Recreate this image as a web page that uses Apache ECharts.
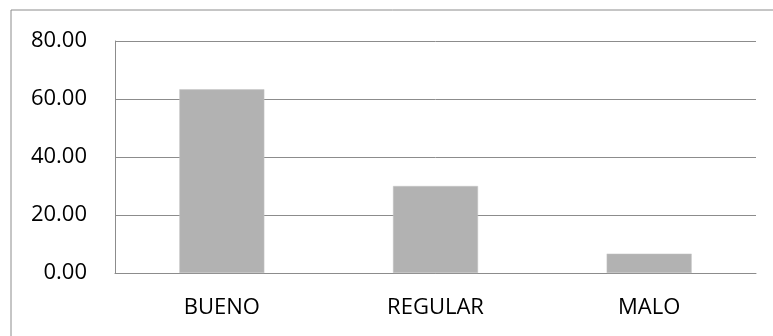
<!DOCTYPE html>
<html>
<head>
<meta charset="utf-8">
<script src="https://cdn.jsdelivr.net/npm/echarts@6/dist/echarts.min.js"></script>
<style>html,body{margin:0;padding:0;background:#fff;}#c{width:773px;height:336px;}</style>
</head>
<body>
<div id="c"></div>
<script>
var categories = ["BUENO", "REGULAR", "MALO"];
var values = [63.33, 30.00, 6.67];
var yTicks = [0, 20, 40, 60, 80];

var chart = echarts.init(document.getElementById('c'), null, {renderer: 'canvas'});
var font = 'Open Sans';
chart.setOption({
  animation: false,
  backgroundColor: '#ffffff',
  graphic: [{
    type: 'rect',
    shape: {x: 11, y: 10, width: 800, height: 400},
    style: {fill: 'none', stroke: '#8c8c8c', lineWidth: 1}
  }],
  grid: {left: 115, right: 17, top: 41, bottom: 63, containLabel: false},
  xAxis: {
    type: 'category',
    data: categories,
    axisLine: {show: true, lineStyle: {color: '#8c8c8c', width: 1}},
    axisTick: {show: false},
    axisLabel: {color: '#000', fontFamily: font, fontSize: 22, margin: 24}
  },
  yAxis: {
    type: 'value',
    min: yTicks[0],
    max: yTicks[yTicks.length - 1],
    interval: 20,
    axisLine: {show: true, lineStyle: {color: '#8c8c8c', width: 1}},
    axisTick: {show: false},
    splitLine: {show: true, lineStyle: {color: '#8c8c8c', width: 1}},
    axisLabel: {color: '#000', fontFamily: font, fontSize: 22, margin: 28, padding: [3, 0, 0, 0],
      formatter: function (v) { return v.toFixed(2); }}
  },
  series: [{
    type: 'bar',
    data: values,
    barWidth: 85,
    itemStyle: {color: '#b2b2b2', borderColor: '#c4c4c4', borderWidth: 0.5}
  }]
});
</script>
</body>
</html>
